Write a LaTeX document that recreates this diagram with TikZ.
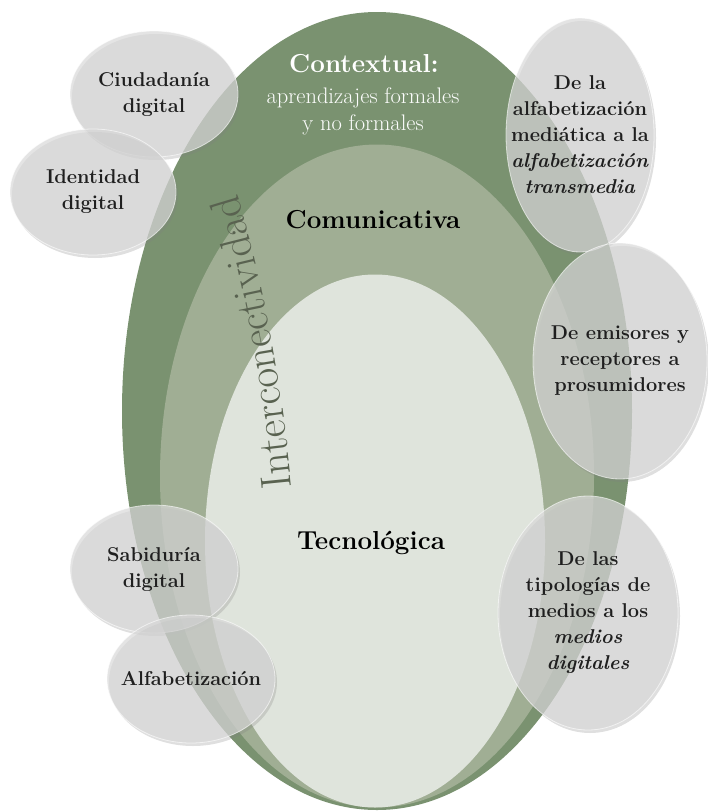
\documentclass[tikz,border=0pt]{standalone}
\usepackage{tikz}
\usetikzlibrary{shapes.geometric,shadows,decorations.text}

\definecolor{verdeoscuro}{HTML}{7A9270}
\definecolor{verdemedio}{HTML}{A0AE94}
\definecolor{verdeclaro}{HTML}{DFE4DC}
\definecolor{grisburbuja}{HTML}{D8D8D8}
\definecolor{grisletra}{HTML}{596250}

\tikzset{
  capa/.style={ellipse, inner sep=0pt},
  burbuja/.style={ellipse, inner sep=0pt, fill=grisburbuja, fill opacity=0.7,
    draw=white, draw opacity=0.6, line width=0.8pt,
    drop shadow={shadow xshift=2pt, shadow yshift=-3pt, opacity=0.25}},
  textoburbuja/.style={align=center, text=black!88,
    font=\fontsize{20}{26}\selectfont\bfseries},
  titulo/.style={align=center, font=\fontsize{26}{30}\selectfont\bfseries}
}

\begin{document}
\begin{tikzpicture}[x=1pt,y=-1pt]
\useasboundingbox (0,0) rectangle (707,811);

% capas
\node[capa, fill=verdeoscuro, minimum width=510pt, minimum height=798pt] (contextual) at (377,411) {};
\node[capa, fill=verdemedio, minimum width=434pt, minimum height=663pt] (comunicativa) at (377,476) {};
\node[capa, fill=verdeclaro, minimum width=340pt, minimum height=533pt] (tecnologica) at (375,541) {};

\node[titulo, text=white] (ctx) at (364,64) {Contextual:};
\node[align=center, text=white!92!verdeclaro, font=\fontsize{22.5}{27}\selectfont] (ctxsub) at (363,111) {aprendizajes formales\\y no formales};
\node[titulo] (com) at (373,220) {Comunicativa};
\node[titulo] (tec) at (371,543) {Tecnológica};

\coordinate (arcoini) at (294,512);
\coordinate (arcofin) at (229,170);
\path[decorate, decoration={text along path, text align=center, text color=grisletra,
  text={|\fontsize{43}{43}\selectfont|Interconectividad}}]
  (arcoini) .. controls (285,400) and (262,262) .. (arcofin);

% burbujas
\foreach \nombre/\px/\py/\ancho/\alto/\texto in {
  ciudadania/154/94/168/126/{Ciudadanía\\digital},
  identidad/93/192/166/126/{Identidad\\digital},
  sabiduria/154/569/168/128/{Sabiduría\\digital},
  alfabetizacion/191/679/168/128/{Alfabetización},
  transmedia/580/135/148/234/{De la\\alfabetización\\mediática a la\\\textit{alfabetización}\\\textit{transmedia}},
  prosumidores/620/361/174/236/{De emisores y\\receptores a\\prosumidores},
  digitales/588/613/180/234/{De las\\tipologías de\\medios a los\\\textit{medios}\\\textit{digitales}}}
{
  \node[burbuja, minimum width=\ancho pt, minimum height=\alto pt] (\nombre) at (\px,\py) {};
  \node[textoburbuja] (\nombre-t) at (\nombre) {\texto};
}

\end{tikzpicture}
\end{document}
